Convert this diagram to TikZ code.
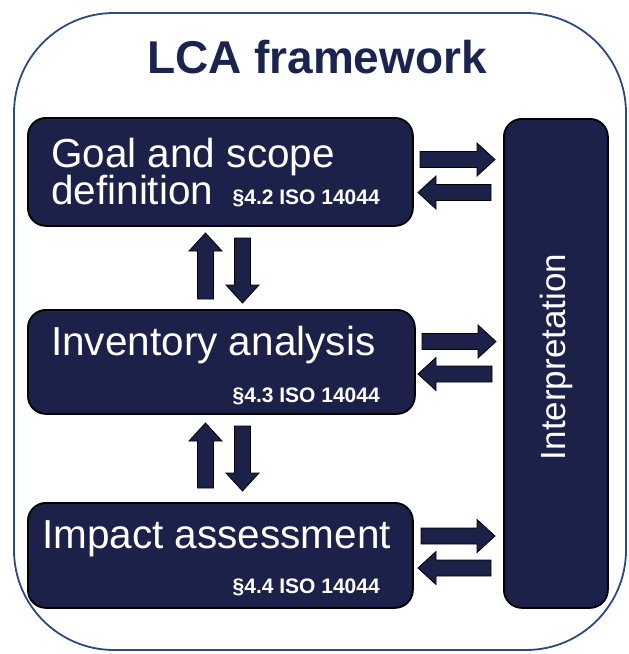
\documentclass[tikz,border=0pt]{standalone}
\usepackage{fontspec}
\setmainfont{Liberation Sans}
\usetikzlibrary{calc}
\definecolor{navy}{HTML}{1B2148}
\definecolor{titlecol}{HTML}{1B2450}
\definecolor{framecol}{HTML}{2C4A7C}
\tikzset{
  stage/.style={draw=black, line width=1.8pt, fill=navy, rounded corners=18pt},
  bigtxt/.style={text=white, inner sep=0pt, font=\fontsize{40.5}{48}\selectfont},
  smalltxt/.style={text=white, inner sep=0pt, font=\fontsize{21}{24}\bfseries\selectfont},
  blockarrow/.style={draw=black, line width=0.8pt, fill=navy,
    to path={
      ($(\tikztostart)!8pt!90:(\tikztotarget)$)
      -- ($(\tikztotarget)!18pt!(\tikztostart)!8pt!90:(\tikztotarget)$)
      -- ($(\tikztotarget)!18pt!(\tikztostart)!16.5pt!90:(\tikztotarget)$)
      -- (\tikztotarget)
      -- ($(\tikztotarget)!18pt!(\tikztostart)!16.5pt!-90:(\tikztotarget)$)
      -- ($(\tikztotarget)!18pt!(\tikztostart)!8pt!-90:(\tikztotarget)$)
      -- ($(\tikztostart)!8pt!-90:(\tikztotarget)$)
      -- cycle}}
}
\begin{document}
\begin{tikzpicture}[x=1pt, y=-1pt]
\useasboundingbox (0,0) rectangle (629,654);
% outer frame
\draw[framecol, line width=1.8pt, rounded corners=100pt] (14,13) rectangle (626,650);
\node[font=\fontsize{46}{52}\bfseries\selectfont, text=titlecol, inner sep=0pt, anchor=base] (title) at (317,73) {LCA framework};
% stage boxes
\node[stage, minimum width=385pt, minimum height=108pt, anchor=north west] (goalbox) at (27,117) {};
\node[stage, minimum width=387pt, minimum height=104pt, anchor=north west] (invbox) at (27,309) {};
\node[stage, minimum width=385pt, minimum height=105pt, anchor=north west] (impbox) at (27,502) {};
\node[stage, minimum width=104pt, minimum height=489pt, anchor=north west] (intbox) at (503,118) {};
% texts
\node[bigtxt, anchor=base west] (goalt1) at (51,167) {Goal and scope};
\node[bigtxt, anchor=base west] (goalt2) at (51,204) {definition};
\node[smalltxt, anchor=base east] (goals) at (380,204) {§4.2 ISO 14044};
\node[bigtxt, anchor=base west] (invt) at (51,355) {Inventory analysis};
\node[smalltxt, anchor=base east] (invs) at (380,402) {§4.3 ISO 14044};
\node[bigtxt, anchor=base west] (impt) at (42,548) {Impact assessment};
\node[smalltxt, anchor=base east] (imps) at (380,593) {§4.4 ISO 14044};
\node[text=white, inner sep=0pt, font=\fontsize{35}{40}\selectfont, rotate=90] (intt) at (556,357) {Interpretation};
% arrow end points
\coordinate (a1s) at (420,159.5); \coordinate (a1e) at (495,159.5);
\coordinate (a2s) at (491,192.5); \coordinate (a2e) at (418,192.5);
\coordinate (a3s) at (422,341.5); \coordinate (a3e) at (496,341.5);
\coordinate (a4s) at (492,374); \coordinate (a4e) at (418,374);
\coordinate (a5s) at (421,536); \coordinate (a5e) at (495,536);
\coordinate (a6s) at (491,568); \coordinate (a6e) at (418,568);
\coordinate (v1s) at (205.5,299); \coordinate (v1e) at (205.5,233);
\coordinate (v2s) at (242.5,238); \coordinate (v2e) at (242.5,303);
\coordinate (v3s) at (205.5,488); \coordinate (v3e) at (205.5,423);
\coordinate (v4s) at (242.5,426); \coordinate (v4e) at (242.5,491);
\foreach \s/\e in {a1s/a1e,a2s/a2e,a3s/a3e,a4s/a4e,a5s/a5e,a6s/a6e,v1s/v1e,v2s/v2e,v3s/v3e,v4s/v4e}
  \draw[blockarrow] (\s) to (\e);
\end{tikzpicture}
\end{document}
